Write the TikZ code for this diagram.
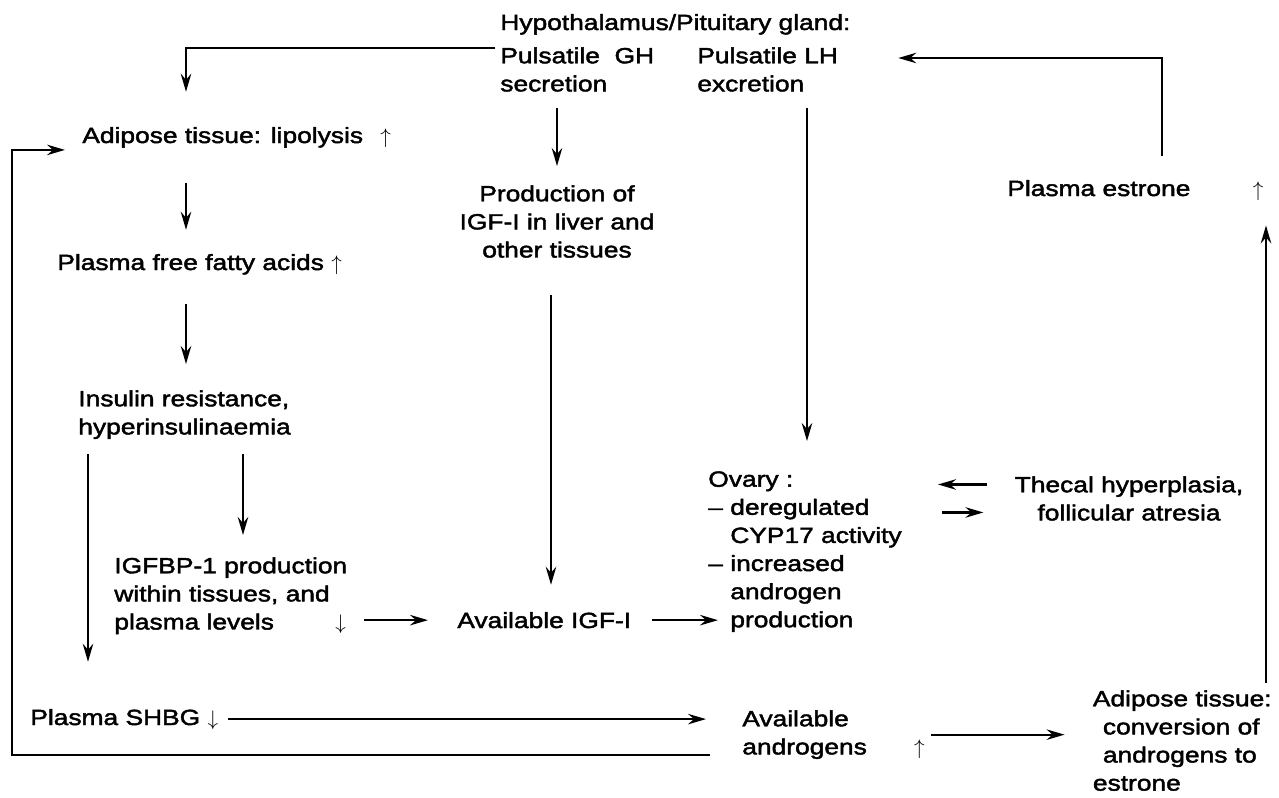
\documentclass[tikz,border=0pt]{standalone}
\usepackage{fontspec}
\setmainfont{Liberation Sans}[FakeStretch=1.2, FakeBold=2]
\usepackage{tikz}
\usetikzlibrary{
    arrows.meta,
    positioning
}
\tikzstyle{txt} = [
    inner sep=0pt,
    align=left,
    font=\fontsize{12.5}{16}\selectfont
]
\tikzstyle{arrow} = [
    line width=1.2pt,
    -{Stealth[length=3.6mm,width=2.1mm,inset=1.2mm]}
]

\begin{document}
\begin{tikzpicture}[x=0.02cm, y=-0.02cm]
\useasboundingbox (0,0) rectangle (1279,798);

% columns of the vertical arrows
\coordinate (colA) at (186,0);
\coordinate (colB) at (557,0);
\coordinate (colC) at (551,0);
\coordinate (colD) at (807,0);
\coordinate (colE) at (1162,0);
\coordinate (colF) at (1266,0);
\coordinate (colG) at (88,0);
\coordinate (colH) at (243,0);
\coordinate (loopx) at (12,0);

\node (hyp) [txt, anchor=base west] at (500,30) {Hypothalamus/Pituitary gland:};
\node (gh) [txt, anchor=north west] at (500,47) {Pulsatile\ \ GH\\secretion};
\node (lh) [txt, anchor=north west] at (697,47) {Pulsatile LH\\excretion};
\node (adip) [txt, anchor=base west] at (82,143) {Adipose tissue: lipolysis\hspace{0.2cm} $\uparrow$};
\node (ffa) [txt, anchor=base west] at (57,270) {Plasma free fatty acids $\uparrow$};
\node (prod) [txt, align=center, anchor=north] at (557,185)
    {Production of\\IGF-I in liver and\\other tissues};
\node (estr) [txt, anchor=base west] at (1007,196) {Plasma estrone\hspace{1.1cm} $\uparrow$};
\node (ins) [txt, anchor=north west] at (78,390) {Insulin resistance,\\hyperinsulinaemia};
\node (ovary) [txt, anchor=north west] at (708,471)
    {Ovary :\\-- deregulated\\\phantom{-- }CYP17 activity\\-- increased\\\phantom{-- }androgen\\\phantom{-- }production};
\node (thecal) [txt, align=center, anchor=north] at (1129,476)
    {Thecal hyperplasia,\\follicular atresia};
\node (igfbp) [txt, anchor=north west] at (114,557)
    {IGFBP-1 production\\within tissues, and\\plasma levels\hspace{1.08cm} $\downarrow$};
\node (avigf) [txt, anchor=base west] at (457,628) {Available IGF-I};
\node (shbg) [txt, anchor=base west] at (30,725) {Plasma SHBG $\downarrow$};
\node (avand) [txt, anchor=north west] at (742,710) {Available\\androgens\hspace{0.8cm} $\uparrow$};
\node (adconv) [txt, anchor=north east] at (1272,690)
    {Adipose tissue:\\\hspace{0.2cm}conversion of\\\hspace{0.2cm}androgens to\\estrone};

% GH and LH branches
\draw [arrow, shorten >=0.7cm] ([xshift=-0.1cm, yshift=-0.02cm]gh.north west) -| (adip.north -| colA);
\draw [arrow, shorten <=0.32cm, shorten >=0.38cm] (gh.south -| colB) -- (prod.north -| colB);
\draw [arrow, shorten <=0.32cm, shorten >=0.6cm] (lh.south -| colD) -- (ovary.north -| colD);
\draw [arrow, shorten <=0.48cm, shorten >=1.2cm] (estr.north -| colE) |- ([yshift=-0.22cm]lh.north east);

% left column
\draw [arrow, shorten <=0.7cm, shorten >=0.48cm] (adip.south -| colA) -- (ffa.north -| colA);
\draw [arrow, shorten <=0.58cm, shorten >=0.52cm] (ffa.south -| colA) -- (ins.north -| colA);
\draw [arrow, shorten <=0.3cm, shorten >=0.94cm] (ins.south -| colG) -- (shbg.north -| colG);
\draw [arrow, shorten <=0.3cm, shorten >=0.44cm] (ins.south -| colH) -- (igfbp.north -| colH);

% IGF-I
\draw [arrow, shorten <=0.74cm, shorten >=0.54cm] (prod.south -| colC) -- (avigf.north -| colC);
\draw [arrow, shorten <=0.32cm, shorten >=0.58cm] (avigf.west -| igfbp.east) -- (avigf.west);
\draw [arrow, shorten <=0.4cm] (avigf.east) -- ([xshift=0.2cm]avigf.east -| ovary.west);

% ovary and theca
\draw [arrow, shorten <=0.54cm, shorten >=0.72cm] ([yshift=0.28cm]thecal.west) -- ([yshift=0.28cm]thecal.west -| ovary.east);
\draw [arrow, shorten <=0.8cm, shorten >=0.62cm] ([yshift=-0.28cm]thecal.west -| ovary.east) -- ([yshift=-0.28cm]thecal.west);

% androgens and estrone
\draw [arrow, shorten <=0.2cm, shorten >=0.72cm] (shbg.east) -- (shbg.east -| avand.west);
\draw [arrow, shorten <=0.12cm, shorten >=0.56cm] (avand.east) -- (avand.east -| adconv.west);
\draw [arrow, shorten <=0.14cm, shorten >=0.5cm] (adconv.north -| colF) -- (estr.south -| colF);

% loop back to lipolysis
\draw [arrow, shorten >=0.34cm] ([shift={(-0.64cm,0.08cm)}]avand.south west)
    -| ([yshift=-0.04cm]adip.south west -| loopx) -- ([yshift=-0.04cm]adip.south west);

\end{tikzpicture}
\end{document}
